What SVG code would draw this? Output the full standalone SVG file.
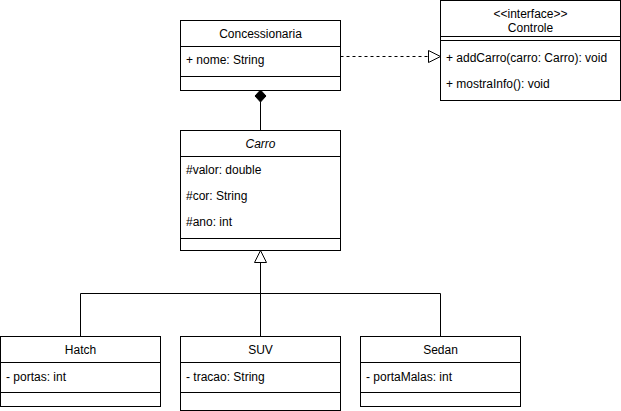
<svg xmlns="http://www.w3.org/2000/svg" width="621" height="411" viewBox="0 0 621 411">
<defs>
<style>
.box{fill:#fff;stroke:#000;stroke-width:1}
.ln{stroke:#000;stroke-width:1;fill:none}
text{font-family:"Liberation Sans",Arial,sans-serif;font-size:12px;fill:#000}
.c{text-anchor:middle}
</style>
</defs>
<rect width="621" height="411" fill="#fff"/>
<g id="connectors">
<path class="ln" d="M340.5 56.5 H428.5" stroke-dasharray="3 3"/>
<path d="M440.5 56.5 L428.5 50.5 L428.5 62.5 Z" fill="#fff" stroke="#000"/>
<path class="ln" d="M260.5 102 V130"/>
<path d="M260.5 90 L266 96 L260.5 102 L255 96 Z" fill="#000" stroke="#000"/>
<path class="ln" d="M260.5 262 V336.5 M260.5 293.5 H80.5 V336.5 M260.5 293.5 H440.5 V336.5"/>
<path d="M260.5 250.5 L266.5 262.5 L254.5 262.5 Z" fill="#fff" stroke="#000"/>
</g>
<g id="concessionaria">
<rect class="box" x="180.5" y="20.5" width="160" height="70"/>
<path class="ln" d="M180.5 46.5 H340.5 M180.5 76.5 H340.5"/>
<text class="c" x="260.5" y="38">Concessionaria</text>
<text x="186" y="64">+ nome: String</text>
</g>
<g id="controle">
<rect class="box" x="440.5" y="0.5" width="180" height="100"/>
<path class="ln" d="M440.5 36.5 H620.5 M440.5 40.5 H620.5"/>
<text class="c" x="530.5" y="18" font-size="11">&lt;&lt;interface&gt;&gt;</text>
<text class="c" x="530.5" y="32">Controle</text>
<text x="446" y="62">+ addCarro(carro: Carro): void</text>
<text x="446" y="88">+ mostraInfo(): void</text>
</g>
<g id="carro">
<rect class="box" x="180.5" y="130.5" width="160" height="120"/>
<path class="ln" d="M180.5 156.5 H340.5 M180.5 238.5 H340.5"/>
<text class="c" x="260.5" y="148" font-style="italic">Carro</text>
<text x="186" y="174">#valor: double</text>
<text x="186" y="200">#cor: String</text>
<text x="186" y="226">#ano: int</text>
</g>
<g id="hatch">
<rect class="box" x="0.5" y="336.5" width="160" height="70"/>
<path class="ln" d="M0.5 362.5 H160.5 M0.5 392.5 H160.5"/>
<text class="c" x="80.5" y="354">Hatch</text>
<text x="6" y="381">- portas: int</text>
</g>
<g id="suv">
<rect class="box" x="180.5" y="336.5" width="160" height="74"/>
<path class="ln" d="M180.5 362.5 H340.5 M180.5 392.5 H340.5"/>
<text class="c" x="260.5" y="354">SUV</text>
<text x="186" y="381">- tracao: String</text>
</g>
<g id="sedan">
<rect class="box" x="360.5" y="336.5" width="160" height="70"/>
<path class="ln" d="M360.5 362.5 H520.5 M360.5 392.5 H520.5"/>
<text class="c" x="440.5" y="354">Sedan</text>
<text x="366" y="381">- portaMalas: int</text>
</g>
</svg>
